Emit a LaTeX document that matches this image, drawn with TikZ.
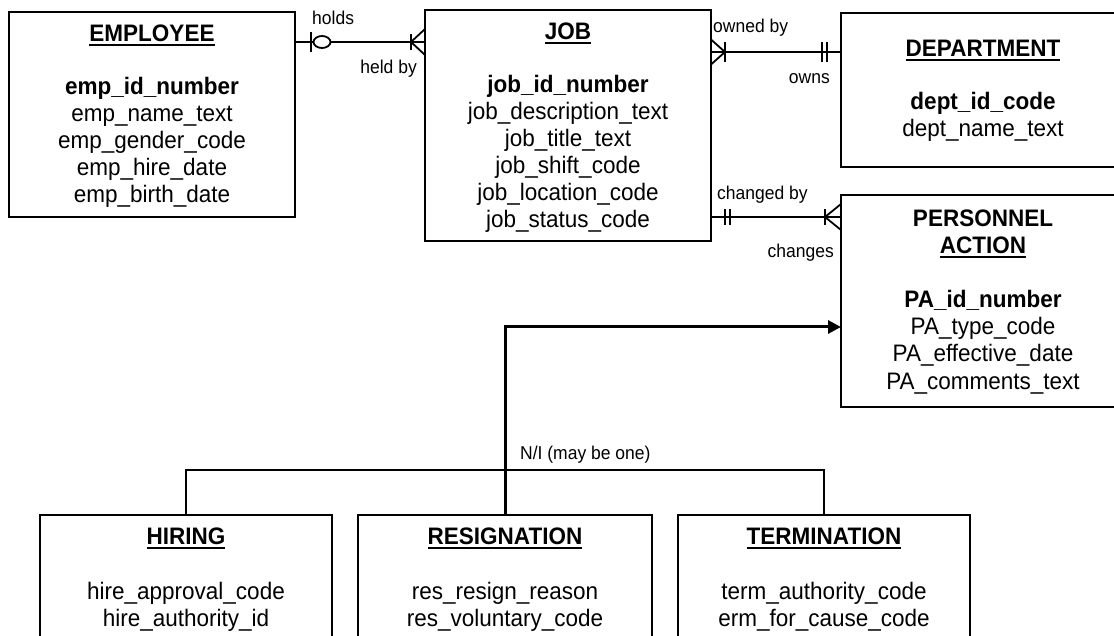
\documentclass[tikz,border=0pt]{standalone}
\usepackage{graphicx}
\usepackage{fontspec}
\setmainfont{Liberation Sans}
\usetikzlibrary{calc,arrows.meta}

% slightly tall lettering
\newcommand{\tall}[1]{\scalebox{1}[1.06]{#1}}
% bold entity title with a heavy underline
\newcommand{\enttitle}[1]{\setbox0=\hbox{\tall{\bfseries #1}}\rlap{\copy0}\rule[-4.5pt]{\wd0}{2pt}}

\begin{document}
\begin{tikzpicture}[x=1pt,y=-1pt,
  entbox/.style={draw, line width=2pt, rectangle, inner sep=0pt, outer sep=0pt, anchor=north west},
  attr/.style={font=\fontsize{22.5}{27}\selectfont, inner sep=0pt, anchor=base},
  keyattr/.style={attr, font=\fontsize{22.5}{27}\selectfont\bfseries},
  lbl/.style={font=\fontsize{17.5}{20}\selectfont, inner sep=0pt},
  rel/.style={line width=1.8pt},
  tickmark/.style={line width=1.8pt},
  subtype/.style={line width=3pt, -{Triangle[length=13pt,width=13pt]}}]

\useasboundingbox (0,0) rectangle (1114,636);
\fill[white] (0,0) rectangle (1114,636);
\clip (0,0) rectangle (1114,636);

% ---------- entity boxes ----------
\node[entbox, minimum width=286pt, minimum height=205pt] (emp) at (9,12) {};
\node[entbox, minimum width=286pt, minimum height=231pt] (job) at (425,10) {};
\node[entbox, minimum width=284pt, minimum height=154pt] (dept) at (841,13) {};
\node[entbox, minimum width=284pt, minimum height=212pt] (pa) at (841,195) {};
\node[entbox, minimum width=292pt, minimum height=150pt] (hir) at (40,515) {};
\node[entbox, minimum width=294pt, minimum height=150pt] (res) at (358,515) {};
\node[entbox, minimum width=292pt, minimum height=150pt] (ter) at (678,515) {};

% ---------- EMPLOYEE ----------
\node[attr] (emp-t) at ($(emp.north)+(0,30)$) {\enttitle{EMPLOYEE}};
\node[keyattr] (emp-k) at ($(emp.north)+(0,82.5)$) {\tall{emp\_id\_number}};
\foreach \t [count=\i] in {emp\_name\_text, emp\_gender\_code, emp\_hire\_date, emp\_birth\_date}
  \node[attr] (emp-a\i) at ($(emp.north)+(0,82.5+27*\i)$) {\tall{\t}};

% ---------- JOB ----------
\node[attr] (job-t) at ($(job.north)+(0,29.5)$) {\enttitle{JOB}};
\node[keyattr] (job-k) at ($(job.north)+(0,83)$) {\tall{job\_id\_number}};
\foreach \t [count=\i] in {job\_description\_text, job\_title\_text, job\_shift\_code, job\_location\_code, job\_status\_code}
  \node[attr] (job-a\i) at ($(job.north)+(0,83+27*\i)$) {\tall{\t}};

% ---------- DEPARTMENT ----------
\node[attr] (dept-t) at ($(dept.north)+(0,44)$) {\enttitle{DEPARTMENT}};
\node[keyattr] (dept-k) at ($(dept.north)+(0,97)$) {\tall{dept\_id\_code}};
\node[attr] (dept-a1) at ($(dept.north)+(0,124)$) {\tall{dept\_name\_text}};

% ---------- PERSONNEL ACTION ----------
\node[keyattr] (pa-t1) at ($(pa.north)+(0,32)$) {\tall{PERSONNEL}};
\node[attr] (pa-t2) at ($(pa.north)+(0,59)$) {\enttitle{ACTION}};
\node[keyattr] (pa-k) at ($(pa.north)+(0,113)$) {\tall{PA\_id\_number}};
\foreach \t [count=\i] in {PA\_type\_code, PA\_effective\_date, PA\_comments\_text}
  \node[attr] (pa-a\i) at ($(pa.north)+(0,113+27*\i)$) {\tall{\t}};

% ---------- subtypes ----------
\node[attr] (hir-t) at ($(hir.north)+(0,29)$) {\enttitle{HIRING}};
\node[attr] (hir-a1) at ($(hir.north)+(0,84)$) {\tall{hire\_approval\_code}};
\node[attr] (hir-a2) at ($(hir.north)+(0,111)$) {\tall{hire\_authority\_id}};

\node[attr] (res-t) at ($(res.north)+(0,29)$) {\enttitle{RESIGNATION}};
\node[attr] (res-a1) at ($(res.north)+(0,84)$) {\tall{res\_resign\_reason}};
\node[attr] (res-a2) at ($(res.north)+(0,111)$) {\tall{res\_voluntary\_code}};

\node[attr] (ter-t) at ($(ter.north)+(0,29)$) {\enttitle{TERMINATION}};
\node[attr] (ter-a1) at ($(ter.north)+(0,84)$) {\tall{term\_authority\_code}};
\node[attr] (ter-a2) at ($(ter.north)+(0,111)$) {\tall{erm\_for\_cause\_code}};

% ---------- EMPLOYEE -- JOB (holds / held by) ----------
\coordinate (ej1) at ($(emp.north east)+(0,30)$);
\coordinate (ej2) at ($(job.north west)+(0,32)$);
\draw[rel] (ej1) -- (ej2);
\draw[tickmark] ($(ej1)+(16,-10)$) -- ++(0,20);
\draw[tickmark, fill=white] ($(ej1)+(27,0)$) ellipse [x radius=8.5, y radius=6];
\draw[tickmark] ($(ej2)+(0,-13)$) -- ($(ej2)+(-14,0)$) -- ($(ej2)+(0,13)$);
\draw[tickmark] ($(ej2)+(-14,-8)$) -- ++(0,16);
\node[lbl, anchor=base west] (l-holds) at (312,25) {\tall{holds}};
\node[lbl, anchor=base east] (l-heldby) at (417,74) {\tall{held by}};

% ---------- JOB -- DEPARTMENT (owned by / owns) ----------
\coordinate (jd1) at ($(job.north east)+(0,42)$);
\coordinate (jd2) at ($(dept.north west)+(0,39)$);
\draw[rel] (jd1) -- (jd2);
\draw[tickmark] ($(jd1)+(0,-12.5)$) -- ($(jd1)+(14,0)$) -- ($(jd1)+(0,12.5)$);
\draw[tickmark] ($(jd1)+(14,-10)$) -- ++(0,20);
\draw[tickmark] ($(jd2)+(-19,-10)$) -- ++(0,20);
\draw[tickmark] ($(jd2)+(-14,-10)$) -- ++(0,20);
\node[lbl, anchor=base west] (l-ownedby) at (713,33) {\tall{owned by}};
\node[lbl, anchor=base east] (l-owns) at (830,84) {\tall{owns}};

% ---------- JOB -- PERSONNEL ACTION (changed by / changes) ----------
\coordinate (jp1) at ($(job.north east)+(0,207)$);
\coordinate (jp2) at ($(pa.north west)+(0,22)$);
\draw[rel] (jp1) -- (jp2);
\draw[tickmark] ($(jp1)+(14,-8)$) -- ++(0,16);
\draw[tickmark] ($(jp1)+(19,-8)$) -- ++(0,16);
\draw[tickmark] ($(jp2)+(0,-13)$) -- ($(jp2)+(-16,0)$) -- ($(jp2)+(0,13)$);
\draw[tickmark] ($(jp2)+(-16,-8)$) -- ++(0,16);
\node[lbl, anchor=base west] (l-changedby) at (717,200) {\tall{changed by}};
\node[lbl, anchor=base east] (l-changes) at (834,258) {\tall{changes}};

% ---------- subtype cluster ----------
\draw[rel] (hir.north) -- ++(0,-45) -| (ter.north);
\coordinate (paIn) at ($(pa.north west)+(0,132)$);
\draw[subtype] (res.north) |- (paIn);
\node[lbl, anchor=base west] (l-ni) at (520,459) {\tall{N/I (may be one)}};

\end{tikzpicture}
\end{document}
